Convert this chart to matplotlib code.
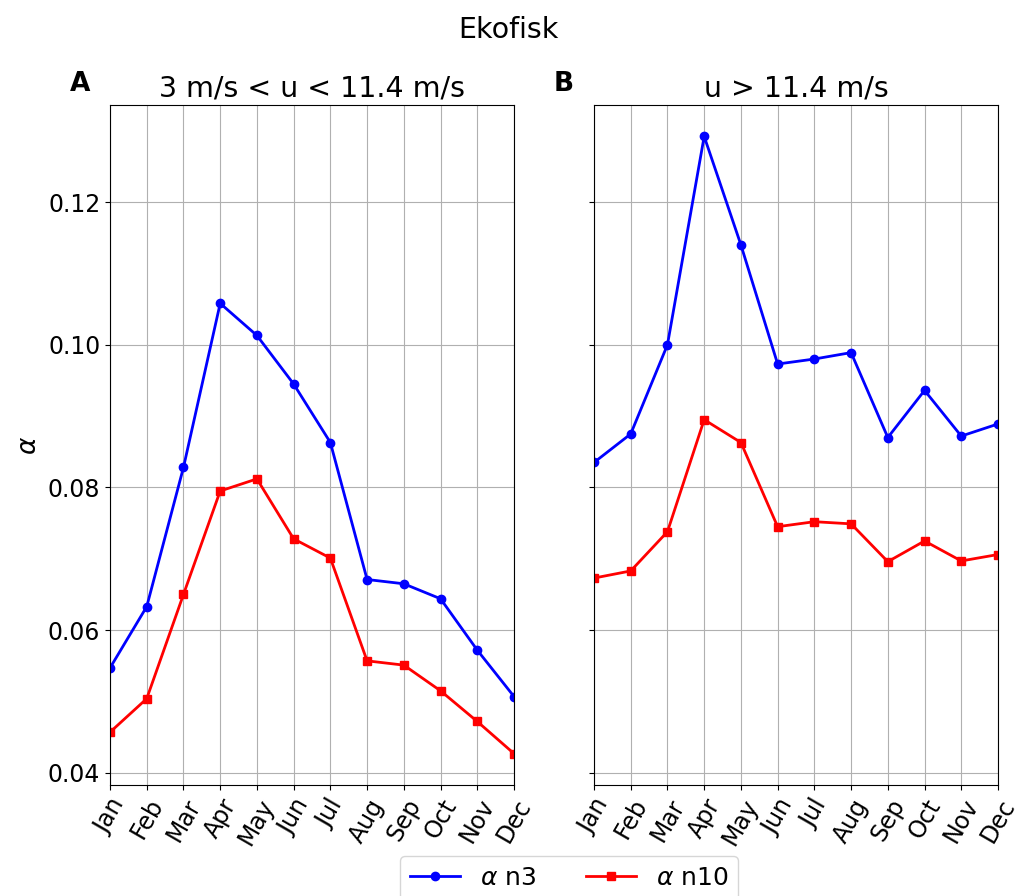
import matplotlib
matplotlib.use("Agg")
import matplotlib.pyplot as plt

months = ["Jan", "Feb", "Mar", "Apr", "May", "Jun", "Jul", "Aug", "Sep", "Oct", "Nov", "Dec"]
left_n3 = [0.0547, 0.0633, 0.0828, 0.1058, 0.1013, 0.0945, 0.0863, 0.0671, 0.0665, 0.0644, 0.0572, 0.0507]
left_n10 = [0.0457, 0.0504, 0.0650, 0.0795, 0.0812, 0.0728, 0.0701, 0.0557, 0.0551, 0.0515, 0.0472, 0.0427]
right_n3 = [0.0835, 0.0875, 0.1000, 0.1292, 0.1140, 0.0973, 0.0980, 0.0989, 0.0870, 0.0936, 0.0872, 0.0889]
right_n10 = [0.0673, 0.0683, 0.0738, 0.0895, 0.0863, 0.0745, 0.0752, 0.0749, 0.0696, 0.0725, 0.0697, 0.0706]

fig = plt.figure(figsize=(10.16, 8.96), dpi=100)
W, H = 1016, 896
ax1 = fig.add_axes([110 / W, 1 - 785 / H, 404 / W, 680 / H])
ax2 = fig.add_axes([594 / W, 1 - 785 / H, 404 / W, 680 / H], sharey=ax1)

x = list(range(len(months)))
for ax, n3, n10, title, lab in [(ax1, left_n3, left_n10, "3 m/s < u < 11.4 m/s", "A"),
                                 (ax2, right_n3, right_n10, "u > 11.4 m/s", "B")]:
    ax.plot(x, n3, "-o", color="blue", lw=2, ms=6, label=r"$\alpha$ n3")
    ax.plot(x, n10, "-s", color="red", lw=2, ms=6, label=r"$\alpha$ n10")
    ax.set_xlim(0, 11)
    ax.set_xticks(x)
    ax.set_xticklabels(months, rotation=60, fontsize=17)
    ax.grid(True, color="#b0b0b0")
    ax.set_title(title, fontsize=20.5)
    ax.tick_params(axis="y", labelsize=17)
    ax.text(-0.1, 1.012, lab, transform=ax.transAxes, fontsize=19, fontweight="bold", va="bottom")

ax1.set_ylim(0.0383, 0.1336)
ax1.set_yticks([0.04, 0.06, 0.08, 0.10, 0.12])
ax1.set_ylabel(r"$\alpha$", fontsize=19)
plt.setp(ax2.get_yticklabels(), visible=False)

fig.suptitle("Ekofisk", fontsize=20.5, y=0.982)
h, l = ax1.get_legend_handles_labels()
fig.legend(h, l, loc="upper center", ncol=2, fontsize=18,
           bbox_to_anchor=(569 / W, 1 - 843 / H))
fig.savefig("out.png", dpi=100)
